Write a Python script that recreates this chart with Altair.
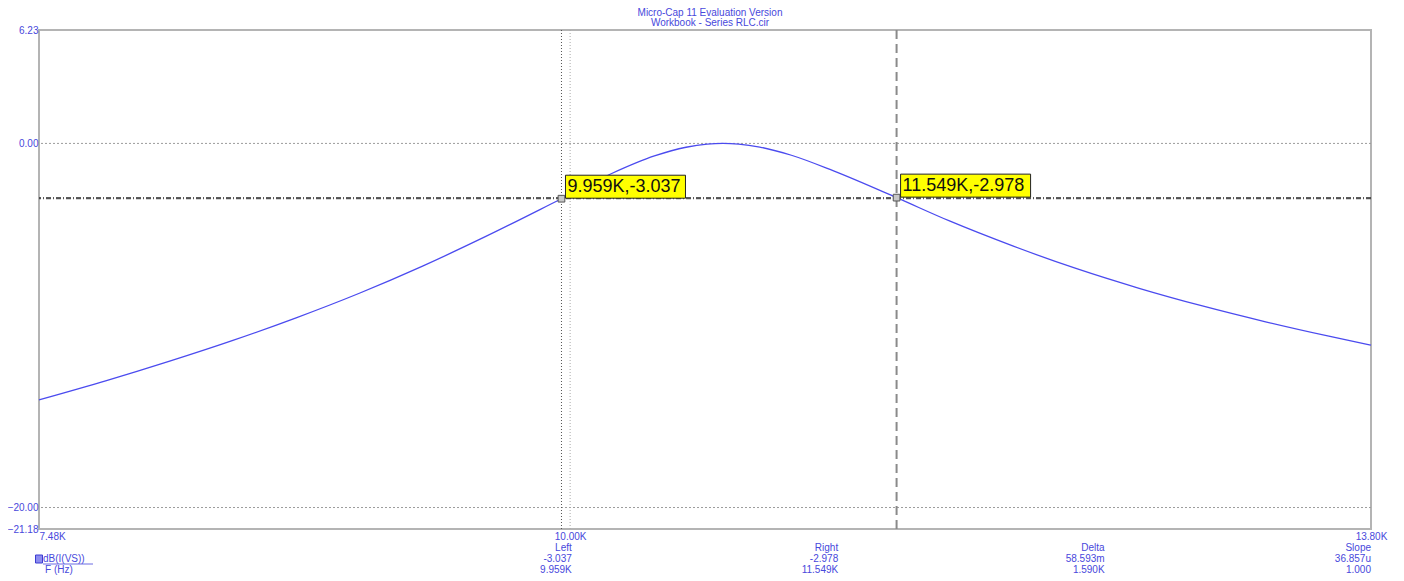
import altair as alt
import pandas as pd

# ---- data ----
freq_k = [7.48, 7.8, 8.1, 8.4, 8.7, 9.0, 9.3, 9.6, 9.959, 10.2, 10.4, 10.55, 10.65,
          10.725, 10.8, 10.9, 11.05, 11.25, 11.549, 11.8, 12.1, 12.4, 12.7, 13.0,
          13.3, 13.6, 13.8]
gain_db = [-14.09, -13.03, -11.96, -10.82, -9.58, -8.23, -6.74, -5.11, -3.04, -1.64,
           -0.69, -0.21, -0.04, 0.0, -0.04, -0.20, -0.65, -1.51, -2.98, -4.26, -5.63,
           -6.87, -7.96, -8.93, -9.80, -10.59, -11.08]

x_ticks = [7.48, 10.0, 13.8]
y_ticks = [6.23, 0.0, -20.0, -21.18]
y_grid = [0.0, -20.0]
x_grid = [10.0]

cursor_freq = [9.959, 11.549]
cursor_db = [-3.037, -2.978]
cursor_text = ["9.959K,-3.037", "11.549K,-2.978"]

title_lines = ["Micro-Cap 11 Evaluation Version", "Workbook - Series RLC.cir"]
readout_head = ["Left", "Right", "Delta", "Slope"]
readout_db = ["-3.037", "-2.978", "58.593m", "36.857u"]
readout_f = ["9.959K", "11.549K", "1.590K", "1.000"]
legend_y = "dB(I(VS))"
legend_x = "F (Hz)"

# ---- style ----
W, H = 1332, 499
BLUE_TXT = "#4848dc"
CURVE = "#4b4bef"
FONT = "Liberation Sans"

xs = alt.Scale(domain=[7.48, 13.8], nice=False, zero=False)
ys = alt.Scale(domain=[-21.18, 6.23], nice=False, zero=False)

x_axis = alt.Axis(
    values=x_ticks, labelExpr="format(datum.value, '.2f') + 'K'", labelColor=BLUE_TXT,
    labelFontSize=10, labelFont=FONT, ticks=False, domain=False, grid=False, title=None,
    labelPadding=2, labelFlush=False, labelOverlap=False,
    labelAlign={"condition": {"test": "datum.value < 8", "value": "left"}, "value": "center"})
y_axis = alt.Axis(
    values=y_ticks, format=".2f", labelColor=BLUE_TXT, labelFontSize=10, labelFont=FONT,
    ticks=False, domain=False, grid=False, title=None, labelPadding=1,
    labelFlush=False, labelOverlap=False)


def X(field):
    return alt.X(field, scale=xs, axis=x_axis)


def Y(field):
    return alt.Y(field, scale=ys, axis=y_axis)


curve_df = pd.DataFrame({"f": freq_k, "db": gain_db})
curve = alt.Chart(curve_df).mark_line(color=CURVE, strokeWidth=1.3, interpolate="monotone").encode(
    x=X("f:Q"), y=Y("db:Q"))

ygrid = alt.Chart(pd.DataFrame({"v": y_grid})).mark_rule(
    color="#9c9c9c", strokeDash=[2, 2], strokeWidth=1).encode(y=Y("v:Q"))
xgrid = alt.Chart(pd.DataFrame({"v": x_grid})).mark_rule(
    color="#a8a8a8", strokeDash=[1, 2], strokeWidth=1).encode(x=X("v:Q"))

cur_df = pd.DataFrame({"f": cursor_freq, "db": cursor_db, "t": cursor_text})
left_cur = alt.Chart(cur_df.iloc[[0]]).mark_rule(
    color="#555555", strokeDash=[1, 2], strokeWidth=1).encode(x=X("f:Q"))
right_cur = alt.Chart(cur_df.iloc[[1]]).mark_rule(
    color="#8a8a8a", strokeDash=[9, 5], strokeWidth=2).encode(x=X("f:Q"))
hcur = alt.Chart(cur_df).mark_rule(
    color="#333333", strokeDash=[5, 2, 1, 2], strokeWidth=1.3, opacity=0.8).encode(y=Y("db:Q"))

marker = alt.Chart(cur_df).mark_square(size=45, color="#c8c8c8", stroke="#555555",
                                       strokeWidth=1, opacity=1).encode(x=X("f:Q"), y=Y("db:Q"))

box_layers = []
for i, bw in enumerate([120, 130]):
    sub = cur_df.iloc[[i]]
    box_layers.append(alt.Chart(sub).mark_rect(
        width=bw, height=23, xOffset=4 + bw / 2, yOffset=-12, fill="#ffff00",
        stroke="#222222", strokeWidth=1).encode(x=X("f:Q"), y=Y("db:Q")))
box_text = alt.Chart(cur_df).mark_text(
    align="left", baseline="middle", dx=6, dy=-12, fontSize=18, font=FONT, color="#111111").encode(
    x=X("f:Q"), y=Y("db:Q"), text="t:N")


def label(txt, px, py, align="center", size=10, color=BLUE_TXT):
    return alt.Chart(pd.DataFrame({"t": [txt]})).mark_text(
        align=align, baseline="middle", fontSize=size, font=FONT, color=color).encode(
        x=alt.value(px), y=alt.value(py), text="t:N")


texts = [label(title_lines[0], 671, -17.5), label(title_lines[1], 671, -7)]
for i in range(4):
    cx = W * (i + 2) / 5
    texts.append(label(readout_head[i], cx, 518, align="right"))
    texts.append(label(readout_db[i], cx, 529, align="right"))
    texts.append(label(readout_f[i], cx, 540, align="right"))
texts.append(label(legend_y, 4, 529, align="left"))
texts.append(label(legend_x, 20, 540, align="center"))

icon = alt.Chart(pd.DataFrame({"t": ["B"]})).mark_rect(
    width=7, height=8, fill="#8c8cf0", stroke="#3c3cd0", strokeWidth=1).encode(
    x=alt.value(0), y=alt.value(529))
uline = alt.Chart(pd.DataFrame({"t": [legend_y]})).mark_rule(color=BLUE_TXT, strokeWidth=0.8).encode(
    x=alt.value(4), x2=alt.value(54), y=alt.value(534))

chart = alt.layer(
    ygrid, xgrid, curve, left_cur, right_cur, hcur, marker, *box_layers, box_text,
    *texts, icon, uline
).properties(
    width=W, height=H,
    autosize=alt.AutoSizeParams(type="none"),
    padding={"left": 31, "top": 22, "right": 25, "bottom": 47},
    background="white",
).configure_view(stroke="#b4b4b4", strokeWidth=2)

chart.save("out.html", embed_options={"renderer": "svg", "actions": False})
